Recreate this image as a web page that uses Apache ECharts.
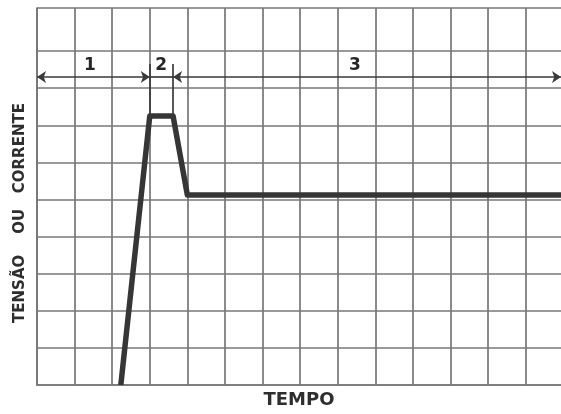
<!DOCTYPE html>
<html>
<head>
<meta charset="utf-8">
<script src="https://cdn.jsdelivr.net/npm/echarts@6/dist/echarts.min.js"></script>
<style>
html,body{margin:0;padding:0;background:#fff;}
#chart{width:561px;height:414px;}
</style>
</head>
<body>
<div id="chart"></div>
<script>
// ---- data ----
const timeX   = [2.23, 3.0, 3.62, 4.0, 13.94];
const signalY = [0, 7.25, 7.25, 5.12, 5.12];
const regionLabels  = ['1', '2', '3'];
const regionLabelX  = [1.41, 3.3, 8.46];
const regionLabelY  = 8.6;
const regionBounds  = [0, 3.0, 3.62, 13.94];
const dimLineY      = 8.3;
const extTopY       = 8.65;
const xMax = 13.94;
const yMax = 10.16;
const xGridValues = [0, 1, 2, 3, 4, 5, 6, 7, 8, 9, 10, 11, 12, 13];
const yGridValues = [0, 1, 2, 3, 4, 5, 6, 7, 8, 9, 10.16];
const xAxisTitle = 'TEMPO';
const yAxisTitle = 'TENSÃO    OU   CORRENTE';

const chart = echarts.init(document.getElementById('chart'), null, {renderer: 'canvas'});

const gridColor = '#777777';
const inkColor = '#363636';

const signalData = timeX.map((x, i) => [x, signalY[i]]);
const labelData = regionLabels.map((t, i) => ({name: t, value: [regionLabelX[i], regionLabelY]}));

const markLines = [
  [{coord: [regionBounds[0], dimLineY], symbol: 'arrow'}, {coord: [regionBounds[1], dimLineY], symbol: 'arrow'}],
  [{coord: [regionBounds[1], dimLineY], symbol: 'none'}, {coord: [regionBounds[2], dimLineY], symbol: 'none'}],
  [{coord: [regionBounds[2], dimLineY], symbol: 'arrow'}, {coord: [regionBounds[3], dimLineY], symbol: 'arrow'}],
  [{coord: [regionBounds[1], extTopY], symbol: 'none'}, {coord: [regionBounds[1], signalY[1]], symbol: 'none'}],
  [{coord: [regionBounds[2], extTopY], symbol: 'none'}, {coord: [regionBounds[2], signalY[2]], symbol: 'none'}]
];

chart.setOption({
  animation: false,
  backgroundColor: '#ffffff',
  grid: {left: 37, right: 0, top: 8, bottom: 23, containLabel: false},
  xAxis: {
    type: 'value', min: 0, max: xMax, interval: 1,
    axisLine: {show: true, lineStyle: {color: gridColor, width: 1.7}},
    axisTick: {show: false, customValues: xGridValues}, axisLabel: {show: false},
    splitLine: {show: true, lineStyle: {color: gridColor, width: 1.7}},
    name: xAxisTitle, nameLocation: 'middle', nameGap: 6,
    nameTextStyle: {fontFamily: 'DejaVu Sans', fontWeight: 'bold', fontSize: 18, color: '#2e2e2e'}
  },
  yAxis: {
    type: 'value', min: 0, max: yMax,
    axisLine: {show: true, lineStyle: {color: gridColor, width: 1.7}},
    axisTick: {show: false, customValues: yGridValues}, axisLabel: {show: false},
    splitLine: {show: true, lineStyle: {color: gridColor, width: 1.7}}
  },
  graphic: [{
    type: 'text', x: 20, y: 213, rotation: Math.PI / 2,
    style: {text: yAxisTitle, fill: '#2e2e2e', font: 'bold 15px "DejaVu Sans"', align: 'center', verticalAlign: 'middle'}
  }],
  series: [
    {
      type: 'line', data: signalData, symbol: 'none', silent: true,
      lineStyle: {color: inkColor, width: 5.5, join: 'round', cap: 'butt'},
      markLine: {
        silent: true, symbolSize: 9, precision: 4,
        label: {show: false},
        lineStyle: {type: 'solid', color: '#3a3a3a', width: 1.7},
        data: markLines
      }
    },
    {
      type: 'scatter', data: labelData, symbolSize: 0, silent: true,
      itemStyle: {opacity: 1},
      label: {show: true, position: 'inside', formatter: p => p.name, opacity: 1,
        fontFamily: 'DejaVu Sans', fontWeight: 'bold', fontSize: 17, color: '#262626'}
    }
  ]
});
</script>
</body>
</html>
